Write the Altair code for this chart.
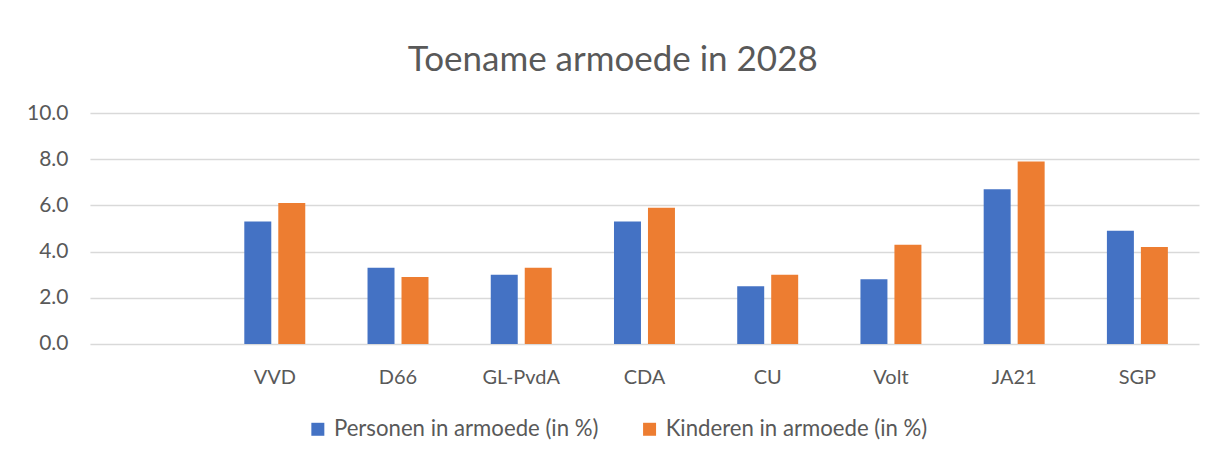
import altair as alt
import pandas as pd

parties = ["VVD", "D66", "GL-PvdA", "CDA", "CU", "Volt", "JA21", "SGP"]
personen = [5.3, 3.3, 3.0, 5.3, 2.5, 2.8, 6.7, 4.9]
kinderen = [6.1, 2.9, 3.3, 5.9, 3.0, 4.3, 7.9, 4.2]
series = ["Personen in armoede (in %)", "Kinderen in armoede (in %)"]
colors = ["#4472C4", "#ED7D31"]
y_ticks = [0, 2, 4, 6, 8, 10]
x_domain = [""] + parties

rows = []
for p, a, b in zip(parties, personen, kinderen):
    rows.append({"partij": p, "reeks": series[0], "waarde": a})
    rows.append({"partij": p, "reeks": series[1], "waarde": b})
df = pd.DataFrame(rows)

FONT = "Lato"
GREY = "#595959"

chart = alt.Chart(df).mark_bar().encode(
    x=alt.X("partij:N", sort=x_domain,
            scale=alt.Scale(domain=x_domain, paddingInner=0, paddingOuter=0),
            axis=alt.Axis(title=None, labelAngle=0, domain=False, ticks=False,
                          labelPadding=24, labelFontSize=20, labelFont=FONT,
                          labelColor=GREY, grid=False)),
    xOffset=alt.XOffset("reeks:N", sort=series,
                        scale=alt.Scale(domain=series, paddingInner=0.206, paddingOuter=0.916)),
    y=alt.Y("waarde:Q", scale=alt.Scale(domain=[0, 10]),
            axis=alt.Axis(title=None, values=y_ticks, format=".1f", domain=False, ticks=False,
                          labelPadding=22, labelFontSize=21, labelFont=FONT, labelColor=GREY,
                          gridColor="#d9d9d9", gridWidth=1.5)),
    color=alt.Color("reeks:N", sort=series,
                    scale=alt.Scale(domain=series, range=colors),
                    legend=alt.Legend(title=None, orient="none", direction="horizontal",
                                      legendX=217, legendY=305, symbolType="square",
                                      symbolSize=169, symbolStrokeWidth=0,
                                      labelFontSize=22.2, labelFont=FONT, labelColor=GREY,
                                      labelLimit=0, columnPadding=40, labelOffset=5)),
).properties(
    width=1110,
    height=231,
    title=alt.TitleParams("Toename armoede in 2028", fontSize=35, font=FONT,
                          fontWeight="normal", color=GREY, anchor="middle",
                          frame="bounds", offset=24),
    autosize=alt.AutoSizeParams(type="none"),
    padding={"left": 82, "top": 105, "right": 10, "bottom": 105},
    background="white",
).configure_view(stroke=None, strokeWidth=0)

chart.save("out.html", embed_options={"renderer": "svg", "actions": False})
